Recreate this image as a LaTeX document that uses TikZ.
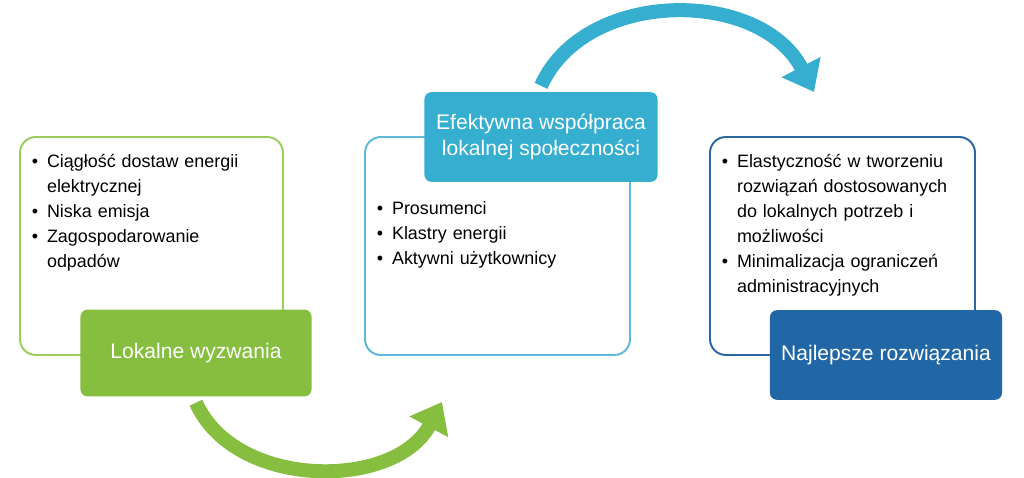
\documentclass[tikz,border=0pt]{standalone}
\usepackage{fontspec}
\setmainfont{Liberation Sans}
\usepackage{enumitem}
\usetikzlibrary{arrows.meta}
\definecolor{greenfill}{HTML}{86BE3F}
\definecolor{greenline}{HTML}{9ACD5A}
\definecolor{cyanfill}{HTML}{36AED0}
\definecolor{cyanline}{HTML}{5DB8DA}
\definecolor{bluefill}{HTML}{2167A6}
\definecolor{blueline}{HTML}{2A66A0}
\newcommand{\bulletlist}[1]{\begin{itemize}[leftmargin=9.5pt,labelsep=5pt,noitemsep,topsep=0pt,partopsep=0pt,parsep=0pt,itemsep=0pt,label=\textbullet]#1\end{itemize}}
\begin{document}
\begin{tikzpicture}
[x=0.02cm,y=-0.02cm,
  outerbox/.style={draw=#1,line width=1.1pt,rounded corners=9pt,fill=white},
  titlebox/.style={rounded corners=4pt,text=white,font=\fontsize{12}{15}\selectfont,align=center},
  itemtext/.style={anchor=north west,text width=#1,inner sep=0pt,font=\fontsize{10.2}{14.2}\selectfont,align=left},
  bigarrow/.style={line width=8pt,-{Triangle[length=16pt,width=24pt]}}]
\useasboundingbox (0,0) rectangle (1024,477);
%% outlined boxes
\draw[outerbox=greenline] (20,137) rectangle (283,355);
\draw[outerbox=cyanline] (365,137) rectangle (630,355);
\draw[outerbox=blueline] (710,137) rectangle (975,355);
%% bullet texts
\node (greenitems) [itemtext=230pt*0.567] at (30,142)
  {\bulletlist{\item Ciągłość dostaw energii elektrycznej \item Niska emisja \item Zagospodarowanie odpadów}};
\node (cyanitems) [itemtext=240pt*0.567] at (375,189)
  {\bulletlist{\item Prosumenci \item Klastry energii \item Aktywni użytkownicy}};
\node (blueitems) [itemtext=245pt*0.567] at (720,142)
  {\bulletlist{\item Elastyczność w tworzeniu rozwiązań dostosowanych do lokalnych potrzeb i możliwości \item Minimalizacja ograniczeń administracyjnych}};
%% filled title boxes
\node (greentitle) [titlebox,fill=greenfill,minimum width=232*0.567pt,minimum height=87*0.567pt] at (196,353) {Lokalne wyzwania};
\node (cyantitle) [titlebox,fill=cyanfill,minimum width=234*0.567pt,minimum height=90*0.567pt] at (541,137) {Efektywna współpraca\\lokalnej społeczności};
\node (bluetitle) [titlebox,fill=bluefill,minimum width=233*0.567pt,minimum height=90*0.567pt] at (886,355) {Najlepsze rozwiązania};
%% arrows
\coordinate (greenend) at (442,402);
\coordinate (cyanend) at (814,92);
\draw[bigarrow,greenfill] (greentitle.south) ++(0,6) .. controls (235,490) and (395,490) .. (greenend);
\draw[bigarrow,cyanfill] (cyantitle.north) ++(0,-6) .. controls (585,-12) and (760,-12) .. (cyanend);
\end{tikzpicture}
\end{document}
